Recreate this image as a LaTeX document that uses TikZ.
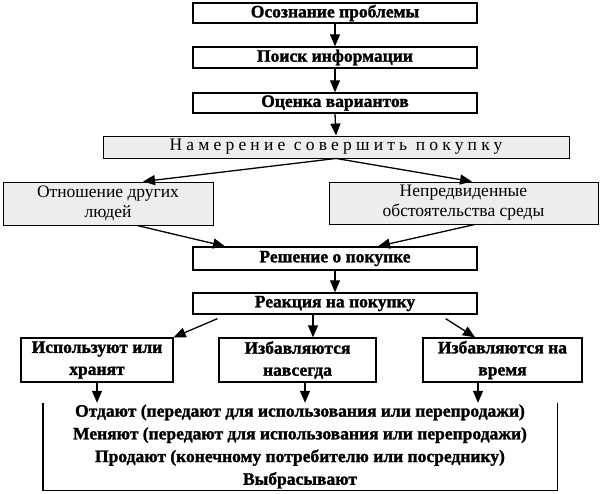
\documentclass[tikz,border=0pt]{standalone}
\usepackage{fontspec}
\setmainfont{Liberation Serif}[BoldFeatures={FakeBold=1.5}]
\usetikzlibrary{arrows.meta,shadows}

\begin{document}
\begin{tikzpicture}[x=1pt,y=-1pt,
	stage/.style={draw,line width=1.4pt,fill=white,inner sep=0pt,minimum width=284pt,minimum height=20pt,font=\fontsize{17.5}{20}\selectfont\bfseries,drop shadow={shadow xshift=1.4pt,shadow yshift=-1.2pt,fill=black,opacity=1}},
	factor/.style={draw,line width=0.9pt,fill=black!7,inner sep=0pt,align=center,minimum height=43pt,font=\fontsize{17.5}{20}\selectfont,drop shadow={shadow xshift=0.8pt,shadow yshift=-0.8pt,fill=black!70,opacity=1}},
	reply/.style={stage,align=center,minimum height=44pt,font=\fontsize{17.5}{22}\selectfont\bfseries},
	flow/.style={line width=1.3pt,-{Triangle[length=12pt,width=10pt]}}]
	\useasboundingbox (0,0) rectangle (600,493);

	\node [stage] (Awareness) at (335,13) {Осознание проблемы};
	\node [stage,minimum height=21pt] (Search) at (335,57.5) {Поиск информации};
	\node [stage] (Evaluation) at (335,103) {Оценка вариантов};
	\node [factor,minimum width=466pt,minimum height=22pt,font=\fontsize{17.5}{20}\selectfont\addfontfeature{LetterSpace=24}] (Intention) at (336,147) {Намерение совершить покупку};
	\node [factor,minimum width=210pt] (Others) at (108,203.5) {Отношение других\\людей};
	\node [factor,minimum width=269pt,minimum height=42pt] (Circumstances) at (463.5,203) {Непредвиденные\\обстоятельства среды};
	\node [stage,minimum height=23pt] (Decision) at (335,258.5) {Решение о покупке};
	\node [stage,minimum height=21pt] (Reaction) at (335,303.5) {Реакция на покупку};
	\node [reply,minimum width=152pt] (Keep) at (97,360) {Используют или\\хранят};
	\node [reply,minimum width=157pt] (Forever) at (297.5,360) {Избавляются\\навсегда};
	\node [reply,minimum width=159pt] (Temporary) at (502.5,360) {Избавляются на\\время};
	\node [inner sep=0pt,minimum width=514pt,minimum height=87pt,align=center,font=\fontsize{17.5}{22.7}\selectfont\bfseries] (Outcomes) at (300,446.5) {Отдают (передают для использования или перепродажи)\\Меняют (передают для использования или перепродажи)\\Продают (конечному потребителю или посреднику)\\Выбрасывают};
	\draw [line width=1.4pt] (Outcomes.north west) -- (Outcomes.south west) -- (Outcomes.south east) -- (Outcomes.north east);

	\draw [flow] (Awareness.south) -- (Search.north);
	\draw [flow] (Search.south) -- (Evaluation.north);
	\draw [flow] (Evaluation.south) -- (Intention.north);
	\draw [flow] (Intention.south) -- ([xshift=35pt]Others.north);
	\draw [flow] (Intention.south) -- ([xshift=8.5pt]Circumstances.north);
	\draw [flow] ([xshift=29pt]Others.south) -- ([xshift=-110pt]Decision.north);
	\draw [flow] ([xshift=11.5pt]Circumstances.south) -- ([xshift=43pt]Decision.north);
	\draw [flow] (Decision.south) -- (Reaction.north);
	\draw [flow] ([xshift=25pt,yshift=-4pt]Reaction.south west) -- (Keep.north east);
	\draw [flow] ([xshift=-22pt]Reaction.south) -- ([xshift=-22pt]Reaction.south |- Forever.north);
	\draw [flow] ([xshift=-32pt,yshift=-4pt]Reaction.south east) -- ([xshift=-27.5pt]Temporary.north);
	\draw [flow] (Keep.south) -- (Keep.south |- Outcomes.north);
	\draw [flow] ([xshift=7.5pt]Forever.south) -- ([xshift=7.5pt]Forever.south |- Outcomes.north);
	\draw [flow] ([xshift=-24.5pt]Temporary.south) -- ([xshift=-24.5pt]Temporary.south |- Outcomes.north);
\end{tikzpicture}
\end{document}
